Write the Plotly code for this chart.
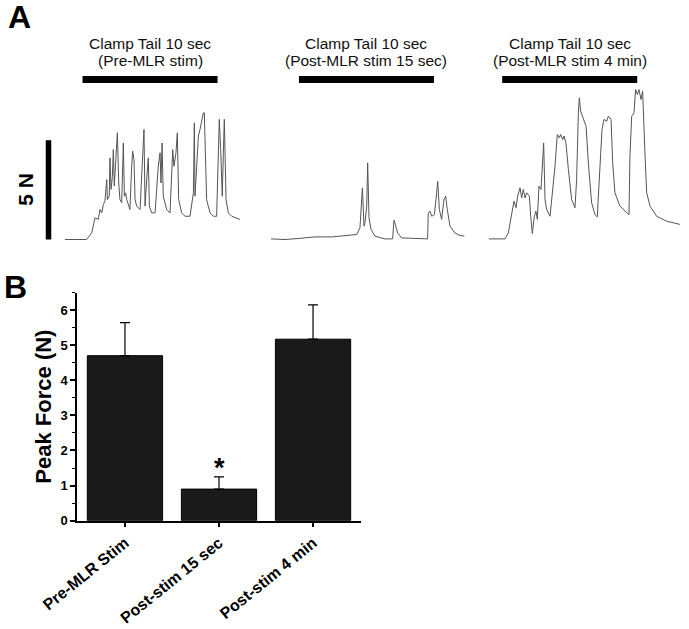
import plotly.graph_objects as go

# ---------------- Panel A: force traces (time in s, force in N) ----------------
t_pre = [0, 1.60, 1.98, 2.22, 2.47, 2.59, 2.72, 2.84, 2.96, 3.09, 3.14, 3.28, 3.33, 3.41, 3.51, 3.58,
         3.65, 3.78, 3.88, 3.98, 4.07, 4.20, 4.32, 4.40, 4.49, 4.57, 4.81, 4.94, 5.01, 5.11, 5.19, 5.31,
         5.56, 5.85, 5.93, 6.05, 6.17, 6.25, 6.42, 6.67, 6.91, 7.04, 7.11, 7.19, 7.28, 7.53, 7.78, 7.98,
         8.07, 8.22, 8.32, 8.42, 8.64, 8.89, 9.26, 9.51, 9.58, 9.63, 9.75, 9.88, 10.00, 10.12, 10.25,
         10.32, 10.49, 10.74, 10.99, 11.23, 11.43, 11.53, 11.65, 11.73, 11.80, 11.93, 12.10, 12.35, 12.96]
f_pre = [0, 0, 0.33, 1.09, 1.01, 1.51, 1.34, 1.76, 1.93, 3.02, 2.01, 2.18, 4.11, 2.52, 3.18, 4.53,
         2.69, 4.02, 5.37, 2.85, 2.01, 1.85, 4.86, 2.18, 2.35, 2.01, 1.51, 3.69, 4.45, 4.02, 2.01, 1.68,
         1.51, 5.54, 1.68, 3.02, 4.11, 1.68, 1.34, 1.34, 3.69, 4.37, 2.85, 4.86, 2.18, 1.51, 1.34, 4.53,
         3.69, 4.37, 5.37, 2.01, 1.34, 1.17, 1.17, 2.35, 5.87, 2.18, 3.69, 5.21, 5.54, 6.05, 6.38,
         6.38, 2.01, 1.34, 1.17, 1.17, 6.05, 4.53, 2.18, 4.37, 6.05, 2.01, 1.34, 1.17, 1.01]

t_post15 = [0, 1.04, 2.02, 3.26, 4.49, 5.48, 6.35, 6.59, 6.77, 6.89, 6.96, 7.09, 7.16, 7.26, 7.41, 7.70,
            8.44, 9.01, 9.11, 9.23, 9.38, 9.68, 11.60, 11.65, 11.78, 11.90, 12.10, 12.22, 12.35, 12.47,
            12.64, 12.81, 12.94, 13.06, 13.26, 13.63, 14.00, 14.32]
f_post15 = [0.03, 0, 0.05, 0.13, 0.13, 0.20, 0.25, 0.59, 2.60, 0.67, 0.84, 1.68, 3.86, 1.09, 0.51, 0.17,
            0.03, 0.03, 0.97, 0.71, 0.33, 0.08, 0.03, 1.34, 1.43, 1.17, 1.25, 2.01, 2.93, 1.51,
            1.01, 2.01, 2.18, 1.51, 0.67, 0.33, 0.20, 0.17]

t_post4 = [0, 1.19, 1.43, 1.68, 1.85, 2.00, 2.12, 2.30, 2.42, 2.54, 2.67, 2.79, 2.99, 3.09, 3.21, 3.36,
           3.48, 3.58, 3.70, 3.85, 3.95, 4.05, 4.15, 4.27, 4.52, 4.72, 4.89, 5.06, 5.21, 5.31, 5.46,
           5.56, 5.70, 5.88, 6.12, 6.37, 6.49, 6.62, 6.69, 6.79, 6.99, 7.19, 7.36, 7.60, 7.85, 8.02,
           8.17, 8.37, 8.52, 8.72, 8.84, 9.04, 9.16, 9.33, 9.70, 10.20, 10.37, 10.44, 10.57, 10.74,
           10.86, 10.99, 11.11, 11.26, 11.38, 11.56, 11.68, 11.93, 12.42, 13.16, 14.15]
f_post4 = [0.03, 0.03, 0.33, 1.34, 1.93, 1.60, 2.18, 2.60, 2.09, 2.52, 2.09, 2.35, 2.18, 1.17, 0.30, 1.17,
           1.43, 1.01, 2.69, 2.52, 3.53, 4.86, 2.01, 1.51, 1.17, 2.52, 3.69, 5.29, 5.12, 5.29, 5.03,
           5.21, 4.86, 3.53, 2.01, 1.60, 3.02, 6.38, 7.13, 6.46, 6.05, 5.70, 3.86, 1.85, 1.25, 1.14,
           3.02, 5.54, 6.05, 5.95, 6.21, 6.05, 3.86, 2.35, 1.68, 1.34, 1.25, 4.20, 6.21, 6.38,
           7.55, 7.30, 7.55, 7.05, 7.47, 4.20, 2.35, 1.68, 1.17, 0.92, 0.76]

clamp_start = [1.30, 2.07, 0.98]   # s, start of 10-s tail clamp in each record
clamp_dur = 10.0
title_line1 = ["Clamp Tail 10 sec", "Clamp Tail 10 sec", "Clamp Tail 10 sec"]
title_line2 = ["(Pre-MLR stim)", "(Post-MLR stim 15 sec)", "(Post-MLR stim 4 min)"]
scale_N = 5

# ---------------- Panel B: peak force bars ----------------
categories = ["Pre-MLR Stim", "Post-stim 15 sec", "Post-stim 4 min"]
peak_mean = [4.70, 0.90, 5.17]
peak_sem = [0.94, 0.35, 0.98]

W, H = 689, 629
def px_x(p): return p / W
def px_y(p): return 1 - p / H

FONT = "Arial, Liberation Sans, sans-serif"
TRACE_COL = "#555555"

fig = go.Figure()
records = [(t_pre, f_pre, "x", "y"), (t_post15, f_post15, "x2", "y"), (t_post4, f_post4, "x3", "y")]
for t, f, xa, ya in records:
    fig.add_trace(go.Scatter(x=t, y=f, mode="lines", line=dict(color=TRACE_COL, width=1),
                             xaxis=xa, yaxis=ya, showlegend=False, hoverinfo="skip"))

fig.add_trace(go.Bar(x=categories, y=peak_mean, width=0.8,
                     marker=dict(color="#1a1a1a", line=dict(color="#000000", width=1)),
                     error_y=dict(type="data", array=peak_sem, arrayminus=[0] * len(peak_sem),
                                  symmetric=False, color="#000000", thickness=1.2, width=5),
                     xaxis="x4", yaxis="y2", showlegend=False, hoverinfo="skip"))

PXS = 13.5   # px per second
PXN = 19.86  # px per newton
base_px = 239.5
ytop_px, ybot_px = 80, 250
x_dom = [(65, 245), (271, 470), (489, 687)]

layout = dict(
    width=W, height=H, autosize=False, margin=dict(l=0, r=0, t=0, b=0, autoexpand=False),
    paper_bgcolor="white", plot_bgcolor="white", showlegend=False,
    font=dict(family=FONT, color="#000000"),
    yaxis=dict(domain=[px_y(ybot_px), px_y(ytop_px)],
               range=[(base_px - ybot_px) / PXN, (base_px - ytop_px) / PXN],
               visible=False, anchor="x", fixedrange=True, automargin=False),
    yaxis2=dict(domain=[px_y(520.7), px_y(292.5)], range=[0, 6.5], anchor="x4", automargin=False,
                showline=True, linecolor="black", linewidth=1.5, showgrid=False, zeroline=False,
                ticks="outside", ticklen=5, tickwidth=1.5, tickcolor="black",
                tickvals=[0, 1, 2, 3, 4, 5, 6],
                minor=dict(dtick=0.5, ticks="outside", ticklen=3, tickwidth=1, tickcolor="black"),
                tickfont=dict(size=13, family=FONT, weight="bold"),
                title=dict(text="Peak Force (N)", font=dict(size=22, family=FONT, weight="bold"),
                           standoff=3)),
    xaxis4=dict(domain=[px_x(77), px_x(361)], range=[-0.51, 2.51], anchor="y2", type="category",
                automargin=False,
                showline=True, linecolor="black", linewidth=1.5, showgrid=False, zeroline=False,
                ticks="outside", ticklen=5, tickwidth=1.5, tickcolor="black", tickangle=-39,
                tickfont=dict(size=16, family=FONT, weight="bold")),
)
for i, (a, b) in enumerate(x_dom):
    key = "xaxis" if i == 0 else f"xaxis{i+1}"
    layout[key] = dict(domain=[px_x(a), px_x(b)], range=[0, (b - a) / PXS], visible=False,
                       anchor="y", fixedrange=True, automargin=False)
fig.update_layout(**layout)

shapes = []
annotations = []
xrefs = ["x", "x2", "x3"]
for i, xr in enumerate(xrefs):
    s = clamp_start[i]
    shapes.append(dict(type="rect", xref=xr, yref="paper", x0=s, x1=s + clamp_dur,
                       y0=px_y(83), y1=px_y(76), fillcolor="black", line=dict(width=0)))
    annotations.append(dict(xref=xr, yref="paper", x=s + clamp_dur / 2, y=px_y(43),
                            text=title_line1[i], showarrow=False, xanchor="center", yanchor="middle",
                            font=dict(size=15.5, family=FONT, color="#111111")))
    annotations.append(dict(xref=xr, yref="paper", x=s + clamp_dur / 2, y=px_y(61),
                            text=title_line2[i], showarrow=False, xanchor="center", yanchor="middle",
                            font=dict(size=15.5, family=FONT, color="#111111")))

# 5 N scale bar
shapes.append(dict(type="line", xref="paper", yref="y", x0=px_x(48.5), x1=px_x(48.5),
                   y0=0, y1=scale_N, line=dict(color="black", width=5.5)))
annotations.append(dict(xref="paper", yref="y", x=px_x(26), y=scale_N / 2, text=f"{scale_N} N",
                        textangle=-90, showarrow=False, xanchor="center", yanchor="middle",
                        font=dict(size=21, family=FONT, weight="bold")))

# significance star
annotations.append(dict(xref="x4", yref="y2", x=categories[1], y=peak_mean[1] + peak_sem[1] + 0.25,
                        text="*", showarrow=False, xanchor="center", yanchor="middle",
                        font=dict(size=27, family=FONT, weight="bold")))

# panel letters
annotations.append(dict(xref="paper", yref="paper", x=px_x(19.5), y=px_y(17), text="A",
                        showarrow=False, xanchor="center", yanchor="middle",
                        font=dict(size=32, family=FONT, weight="bold")))
annotations.append(dict(xref="paper", yref="paper", x=px_x(15), y=px_y(287), text="B",
                        showarrow=False, xanchor="center", yanchor="middle",
                        font=dict(size=32, family=FONT, weight="bold")))

fig.update_layout(shapes=shapes, annotations=annotations)
fig.write_html("out.html", config={"displayModeBar": False},
               post_script="document.body.style.margin='0';document.body.style.padding='0';")
